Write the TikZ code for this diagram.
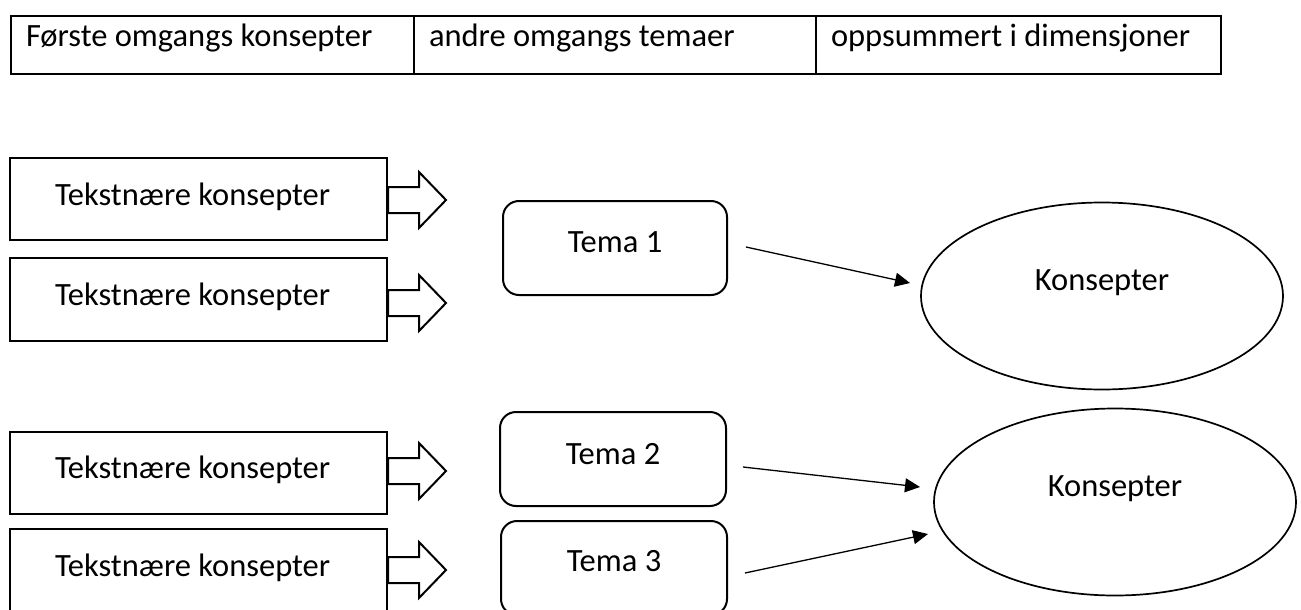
\documentclass[tikz,border=0pt]{standalone}
\usepackage{fontspec}
\setmainfont{Carlito}
\usetikzlibrary{shapes.geometric,arrows.meta,calc}

\tikzset{
  pics/blockarrow/.style={code={
    \draw[line width=2pt, fill=white, line join=miter]
      (0,-13) -- (31,-13) -- (31,-28) -- (58,0) -- (31,28) -- (31,13) -- (0,13) -- cycle;
  }}
}

\begin{document}
\begin{tikzpicture}[x=1pt,y=-1pt,
  every node/.style={font=\fontsize{32.5}{39}\selectfont, inner sep=0pt},
  cell/.style={draw, line width=2pt, anchor=north west, align=flush left,
               inner xsep=15pt, text height=31pt, text depth=27pt},
  srcbox/.style={draw, line width=2pt, anchor=base, align=flush left,
                 inner xsep=45pt, text width=287pt},
  themebox/.style={draw, line width=2pt, rounded corners=16pt, anchor=base},
  dimoval/.style={draw, ellipse, line width=1.7pt, anchor=base,
                  minimum width=362pt, minimum height=187pt,
                  text height=10pt, text depth=22pt},
  link/.style={line width=1.3pt, -{Triangle[length=15pt,width=14pt]}}
]
\useasboundingbox (0,0) rectangle (1301,610);
\fill[white] (0,0) rectangle (1301,610);

% header row
\node[cell, text width=373pt] (h1) at (10,15) {Første omgangs konsepter};
\node[cell, text width=372pt] (h2) at (413,15) {andre omgangs temaer};
\node[cell, text width=375pt] (h3) at (815,15) {oppsummert i dimensjoner};

% first-round concepts
\node[srcbox, text height=47pt, text depth=35pt] (src1) at (198.5,205) {Tekstnære konsepter};
\node[srcbox, text height=47pt, text depth=36pt] (src2) at (198.5,305) {Tekstnære konsepter};
\node[srcbox, text height=46pt, text depth=36pt] (src3) at (198.5,478) {Tekstnære konsepter};
\node[srcbox, text height=47pt, text depth=40pt] (src4) at (198.5,576) {Tekstnære konsepter};

\pic at ($(src1.east)+(0,1)$) {blockarrow};
\pic at ($(src2.east)+(0,3.5)$) {blockarrow};
\pic at ($(src3.east)+(0,-2)$) {blockarrow};
\pic at ($(src4.east)+(0,-2.5)$) {blockarrow};

% second-round themes
\node[themebox, minimum width=224pt, text height=51pt, text depth=43pt] (tema1) at (615,252) {Tema 1};
\node[themebox, minimum width=226pt, text height=52pt, text depth=42pt] (tema2) at (613,464) {Tema 2};
\node[themebox, minimum width=226pt, text height=50pt, text depth=44pt] (tema3) at (614,571) {Tema 3};

% dimensions
\node[dimoval] (dim1) at (1102,290) {Konsepter};
\node[dimoval] (dim2) at (1115,496) {Konsepter};

% links from themes to dimensions
\coordinate (l1a) at (746,247);
\coordinate (l1b) at (910,283);
\coordinate (l2a) at (743,467);
\coordinate (l2b) at (920,487);
\coordinate (l3a) at (745,573);
\coordinate (l3b) at (928,534);
\draw[link] (l1a) -- (l1b);
\draw[link] (l2a) -- (l2b);
\draw[link] (l3a) -- (l3b);
\end{tikzpicture}
\end{document}
